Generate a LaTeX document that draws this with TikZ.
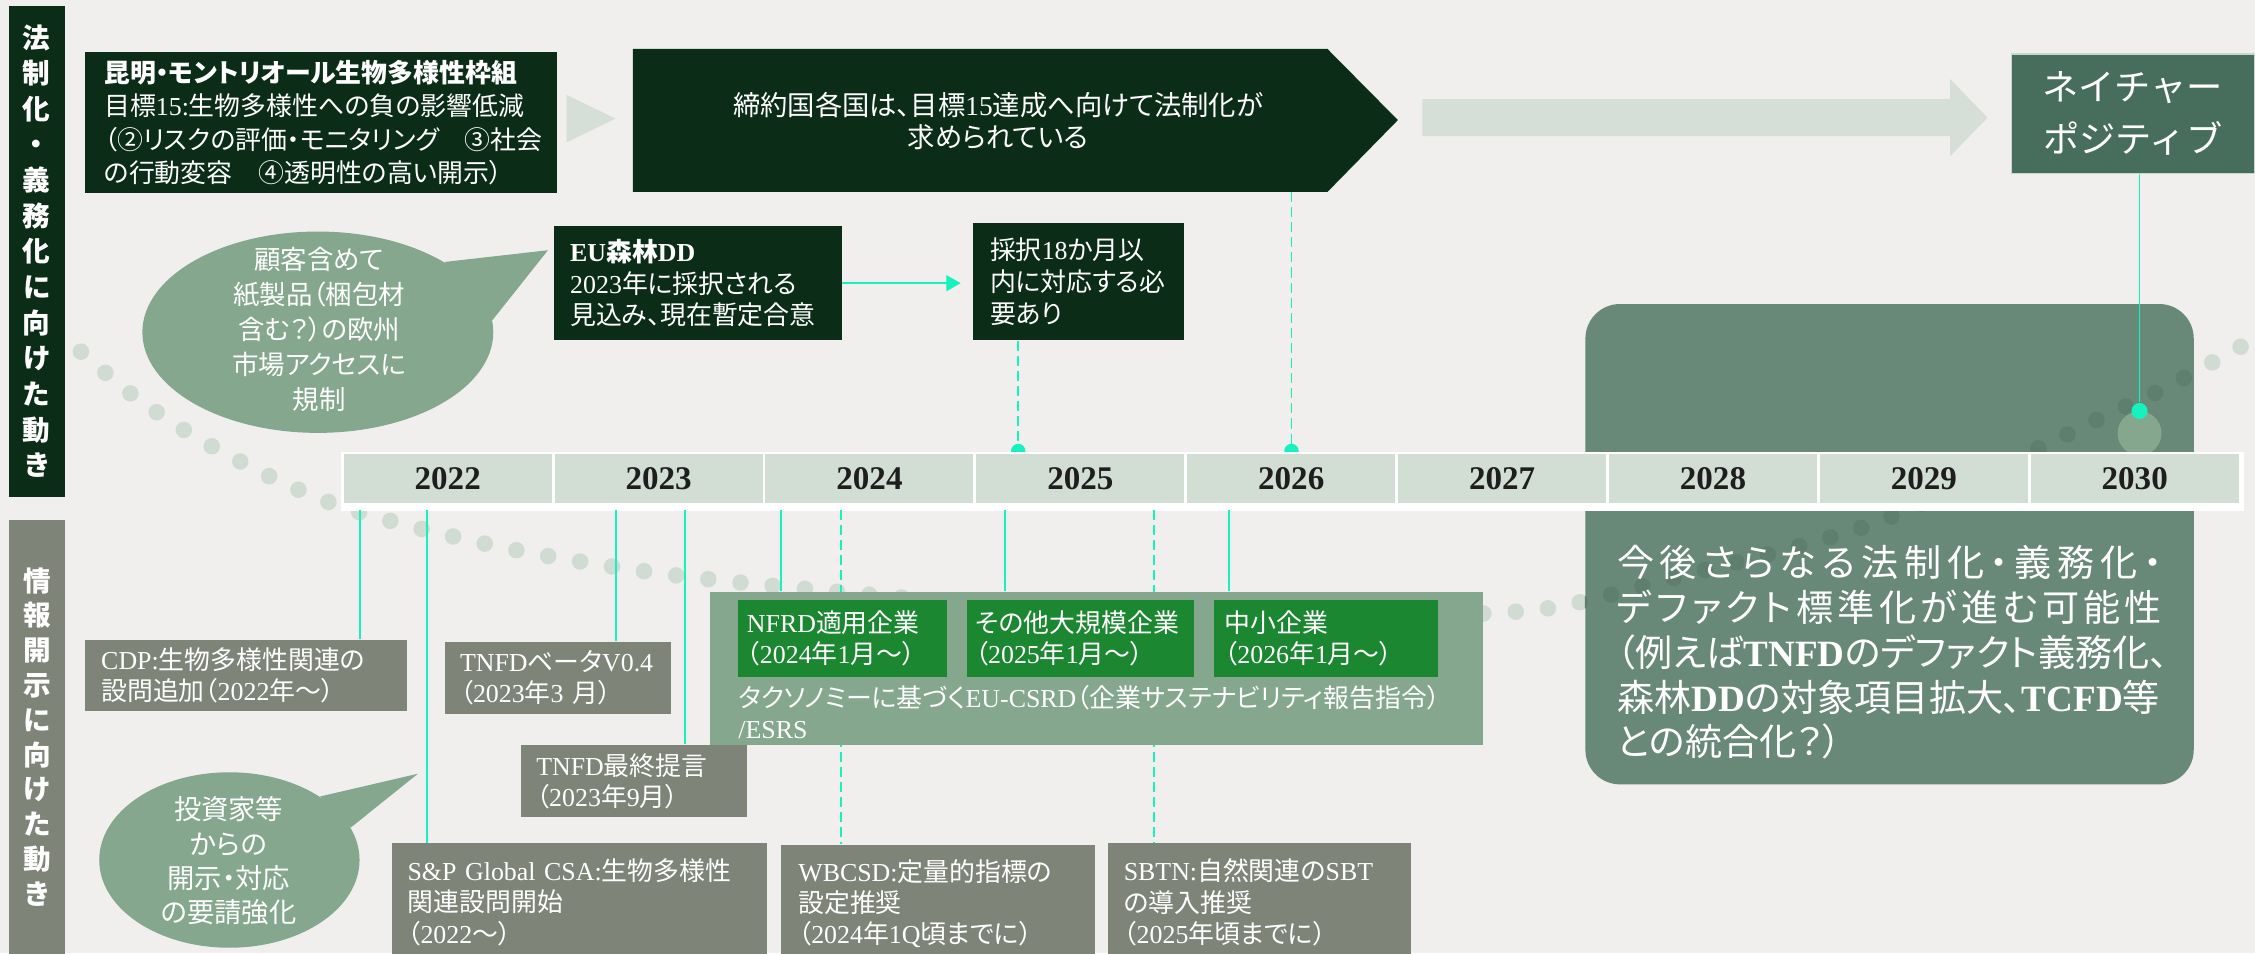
\documentclass[tikz,border=0pt]{standalone}
\usepackage{fontspec}
\setmainfont{Liberation Serif}
\newfontfamily\jpfont[RawFeature=+palt]{Noto Sans CJK JP}
\newfontfamily\jpfull{Noto Sans CJK JP}
\usetikzlibrary{shapes.geometric,arrows.meta}
\makeatletter
\XeTeXinterchartokenstate=1
\newXeTeXintercharclass\jpclass
\newcount\jpcnt
\def\setjprange#1#2{\jpcnt=#1\relax
  \loop\XeTeXcharclass\jpcnt=\jpclass
  \ifnum\jpcnt<#2\advance\jpcnt by 1\repeat}
\setjprange{"2460}{"24FF}
\setjprange{"3000}{"30FF}
\setjprange{"3400}{"9FFF}
\setjprange{"FF00}{"FFEF}
\def\curjp{\jpfont}
\XeTeXinterchartoks 0 \jpclass = {\curjp}
\XeTeXinterchartoks \e@alloc@intercharclass@top \jpclass = {\curjp}
\XeTeXinterchartoks \jpclass 0 = {\rmfamily}
\XeTeXinterchartoks \e@alloc@intercharclass@top 0 = {\rmfamily}
\def\spreadtext#1{\@tfor\sp@x:=#1\do{\sp@x\hskip0pt plus 1fil}\unskip}
\makeatother

\definecolor{bgc}{HTML}{F0EFED}
\definecolor{darkg}{HTML}{0B2D17}
\definecolor{greyb}{HTML}{7F8479}
\definecolor{cellc}{HTML}{D2DDD4}
\definecolor{bubc}{HTML}{84A78D}
\definecolor{brightg}{HTML}{1C8731}
\definecolor{rboxc}{HTML}{688878}
\definecolor{npc}{HTML}{476E5D}
\definecolor{cyanc}{HTML}{14F2C0}
\definecolor{dotl}{HTML}{D0DBD2}
\definecolor{dotd}{HTML}{5E7E6E}
\definecolor{arrl}{HTML}{D5DFD8}
\definecolor{yearc}{HTML}{1E1E1E}
\definecolor{npedge}{HTML}{C9D6CD}

\tikzset{
  fbox/.style={anchor=north west, inner ysep=0pt, align=left, text=white, font=\fontsize{9}{11.25}\selectfont},
  darkbox/.style={fbox, fill=darkg},
  greybox/.style={fbox, fill=greyb, font=\fontsize{9}{10.9}\selectfont},
  greenbox/.style={fbox, fill=brightg, font=\fontsize{9}{11}\selectfont},
  cell/.style={fill=cellc, minimum width=72.3pt, minimum height=17.05pt, inner sep=0pt, text=yearc, font=\fontsize{11.5}{12}\selectfont\bfseries},
  cline/.style={draw=cyanc, line width=0.7pt},
  cdash/.style={draw=cyanc, line width=0.65pt, dash pattern=on 3.5pt off 1.75pt},
  dotline/.style={line width=5.75pt, line cap=round, dash pattern=on 0pt off 11.25pt},
  bubble/.style={ellipse, fill=bubc, inner sep=0pt},
  bubtext/.style={align=center, text=white},
  sidebar/.style={anchor=north west, inner sep=0pt, align=center, text=white},
  hdot/.style={circle, fill=cyanc, minimum size=5pt, inner sep=0pt},
}

\begin{document}
\begin{tikzpicture}[x=0.5pt,y=-0.5pt]
\useasboundingbox (0,0) rectangle (1568,663);
\fill[bgc] (0,0) rectangle (1568,663);

% dotted curve (light)
\draw[dotline, dotl] plot[smooth, tension=0.55] coordinates {(20,218) (46,236) (96.6,278) (154,314) (234,351) (344,379.5) (454,398) (566,410) (700,421) (850,428) (980,428) (1058,425) (1102,418) (1167,401) (1254,379) (1318,358) (1421,310) (1460,291) (1501,272) (1541,250.5) (1585,226)};

% rounded box
\node[anchor=north west, fill=rboxc, rounded corners=12pt, minimum width=211.5pt, minimum height=167pt, inner sep=0pt] (rbox) at (1102,211) {};
\begin{scope}
\clip[rounded corners=12pt] (rbox.north west) rectangle (rbox.south east);
\draw[dotline, dotd] plot[smooth, tension=0.55] coordinates {(20,218) (46,236) (96.6,278) (154,314) (234,351) (344,379.5) (454,398) (566,410) (700,421) (850,428) (980,428) (1058,425) (1102,418) (1167,401) (1254,379) (1318,358) (1421,310) (1460,291) (1501,272) (1541,250.5) (1585,226)};
\end{scope}

% nature positive
\node[circle, fill=bubc, minimum size=15.3pt, inner sep=0pt] (bigc) at (1487.7,301.3) {};
\node[anchor=north west, fill=npc, draw=npedge, line width=0.5pt, minimum width=84.5pt, minimum height=41.5pt, inner sep=0pt, align=center, text=white, font=\fontsize{12.6}{18.25}\selectfont\def\curjp{\jpfull}] (np) at (1398,37) {ネイチャー\\ポジティブ};
\node[circle, fill=cyanc, minimum size=5.6pt, inner sep=0pt] (cdot) at (1487.7,285.8) {};
\draw[draw=cyanc, line width=0.65pt] (cdot |- np.south) -- (cdot.north);

% top row
\node[darkbox, minimum width=164pt, minimum height=49.25pt, inner xsep=6.5pt, text width=151pt, font=\fontsize{9}{11.6}\selectfont] (kbf) at (59,35.5) {\textbf{昆明・モントリオール生物多様性枠組}\\目標15:生物多様性への負の影響低減\\（②リスクの評価・モニタリング　③社会\\の行動変容　④透明性の高い開示）};
\fill[arrl] (394,66) -- (428,82.5) -- (394,99) -- cycle;
\fill[darkg] (440,34) -- (923,34) -- (972,83.5) -- (923,133.5) -- (440,133.5) -- cycle;
\node[align=center, text=white, font=\fontsize{9.5}{11}\selectfont] (pentt) at (694,84) {締約国各国は、目標15達成へ向けて法制化が\\求められている};
\coordinate (pentb) at (898,133.5);
\fill[arrl] (989,69) -- (1356,69) -- (1356,55) -- (1382,81.8) -- (1356,108.6) -- (1356,94.6) -- (989,94.6) -- cycle;

\node[darkbox, minimum width=100.2pt, minimum height=39.5pt, inner xsep=5.75pt, text width=88.7pt, font=\fontsize{9}{11}\selectfont] (eudd) at (384.6,157) {\textbf{EU森林DD}\\2023年に採択される\\見込み、現在暫定合意};
\node[darkbox, minimum width=73.5pt, minimum height=40.5pt, inner xsep=6pt, text width=61.5pt, font=\fontsize{9}{11.25}\selectfont] (sai) at (676,155) {採択18か月以\\内に対応する必\\要あり};
\draw[cyanc, line width=0.75pt, -{Triangle[length=5pt,width=5.5pt]}, shorten >=4pt] (eudd.east) -- (eudd.east -| sai.west);

\node[hdot] (hd1) at (708,313.6) {};
\node[hdot] (hd2) at (898,313.6) {};
\draw[cdash] (hd1 |- sai.south) -- (hd1.center);
\draw[cdash] (pentb) -- (hd2.center);

% timeline
\node[fill=white, anchor=north west, minimum width=661.3pt, minimum height=20.5pt, inner sep=0pt] (tl) at (237,313.6) {};
\foreach \i/\yr in {0/2022,1/2023,2/2024,3/2025,4/2026,5/2027,6/2028,7/2029,8/2030}
  \node[cell] (y\yr) at ({238+146.63*(\i+0.5)},332.55) {\yr};

% grey boxes
\node[greybox, minimum width=111.75pt, minimum height=24.9pt, inner xsep=5.5pt, text width=100.75pt] (cdp) at (59,444.5) {CDP:生物多様性関連の\\設問追加（2022年～）};
\node[greybox, minimum width=78.5pt, minimum height=25pt, inner xsep=5.25pt, text width=68pt] (tnfdb) at (309,446) {TNFDベータV0.4\\（2023年3 月）};
\node[greybox, minimum width=78.5pt, minimum height=25.25pt, inner xsep=5.25pt, text width=68pt] (tnfdf) at (362,517.5) {TNFD最終提言\\（2023年9月）};
\node[greybox, minimum width=130.5pt, minimum height=41pt, inner xsep=5.5pt, text width=119.5pt] (snp) at (272,586) {S\&P Global CSA:生物多様性\\関連設問開始\\（2022～）};
\node[greybox, minimum width=109pt, minimum height=41pt, inner xsep=5.85pt, text width=97.3pt] (wbcsd) at (543,587) {WBCSD:定量的指標の\\設定推奨\\（2024年1Q頃までに）};
\node[greybox, minimum width=105.25pt, minimum height=41pt, inner xsep=5.5pt, text width=94.25pt] (sbtn) at (770,586) {SBTN:自然関連のSBT\\の導入推奨\\（2025年頃までに）};

% connectors below the timeline
\coordinate (v1) at (250.5,354.6);
\coordinate (v2) at (296.7,354.6);
\coordinate (v3) at (428,354.6);
\coordinate (v4) at (476,354.6);
\coordinate (v5) at (543,354.6);
\coordinate (v6) at (699,354.6);
\coordinate (v7) at (854.7,354.6);
\coordinate (d1) at (584.6,354.6);
\coordinate (d2) at (802.6,354.6);
\draw[cline] (v1) -- (v1 |- cdp.north);
\draw[cline] (v2) -- (v2 |- snp.north);
\draw[cline] (v3) -- (v3 |- tnfdb.north);
\draw[cline] (v4) -- (v4 |- tnfdf.north);
\draw[cdash] (d1) -- (d1 |- wbcsd.north);
\draw[cdash] (d2) -- (d2 |- sbtn.north);

% CSRD
\node[anchor=north west, fill=bubc, minimum width=268.75pt, minimum height=53.25pt, inner sep=0pt] (csrd) at (493,411) {};
\draw[cline] (v5) -- (v5 |- csrd.north);
\draw[cline] (v6) -- (v6 |- csrd.north);
\draw[cline] (v7) -- (v7 |- csrd.north);
\node[greenbox, minimum width=72.5pt, minimum height=26.5pt, inner xsep=3pt, text width=66.5pt] (nfrd) at (513,417) {NFRD適用企業\\（2024年1月～）};
\node[greenbox, minimum width=78.75pt, minimum height=26.5pt, inner xsep=2.85pt, text width=73.05pt] (oth) at (672,417) {その他大規模企業\\（2025年1月～）};
\node[greenbox, minimum width=77.75pt, minimum height=26.5pt, inner xsep=3.5pt, text width=70.75pt] (sme) at (844,417) {中小企業\\（2026年1月～）};
\node[anchor=west, align=left, text=white, font=\fontsize{9}{10.6}\selectfont, inner sep=0pt] (csrdt) at (513,495.2) {タクソノミーに基づくEU-CSRD（企業サステナビリティ報告指令）\\/ESRS};

% bubbles
\node[bubble, minimum width=122pt, minimum height=70pt] (bub1) at (221,231) {};
\coordinate (t1) at (381,174);
\fill[bubc] (bub1.29) -- (t1) -- (bub1.4) -- cycle;
\node[bubtext, font=\fontsize{9.2}{12.1}\selectfont] (bub1t) at (222,229) {顧客含めて\\紙製品（梱包材\\含む？）の欧州\\市場アクセスに\\規制};

\node[bubble, minimum width=90.5pt, minimum height=61pt] (bub2) at (159.5,598) {};
\coordinate (t2) at (290.6,538);
\fill[bubc] (bub2.35) -- (t2) -- (bub2.15) -- cycle;
\node[bubtext, font=\fontsize{9.5}{11.85}\selectfont] (bub2t) at (159,598.5) {投資家等\\からの\\開示・対応\\の要請強化};

% side bars
\node[sidebar, fill=darkg, minimum width=19.45pt, minimum height=170.75pt, font=\fontsize{9.6}{12.4}\selectfont\bfseries] (lb1) at (5.6,3.5) {法\\制\\化\\・\\義\\務\\化\\に\\向\\け\\た\\動\\き};
\node[sidebar, fill=greyb, minimum width=19.55pt, minimum height=151pt, font=\fontsize{9.6}{12.1}\selectfont\bfseries] (lb2) at (5.7,361) {情\\報\\開\\示\\に\\向\\け\\た\\動\\き};

% text of the rounded box
\node[anchor=west, align=left, text=white, inner sep=0pt, font=\fontsize{12.9}{15.6}\selectfont] (rtext) at (1124,453.6) {\makebox[189.5pt][s]{\spreadtext{今後さらなる法制化・義務化・}}\\\makebox[189.5pt][s]{\spreadtext{デファクト標準化が進む可能性}}\\（例えば\textbf{TNFD}のデファクト義務化、\\森林\textbf{DD}の対象項目拡大、\textbf{TCFD}等\\との統合化？）};
\end{tikzpicture}
\end{document}
